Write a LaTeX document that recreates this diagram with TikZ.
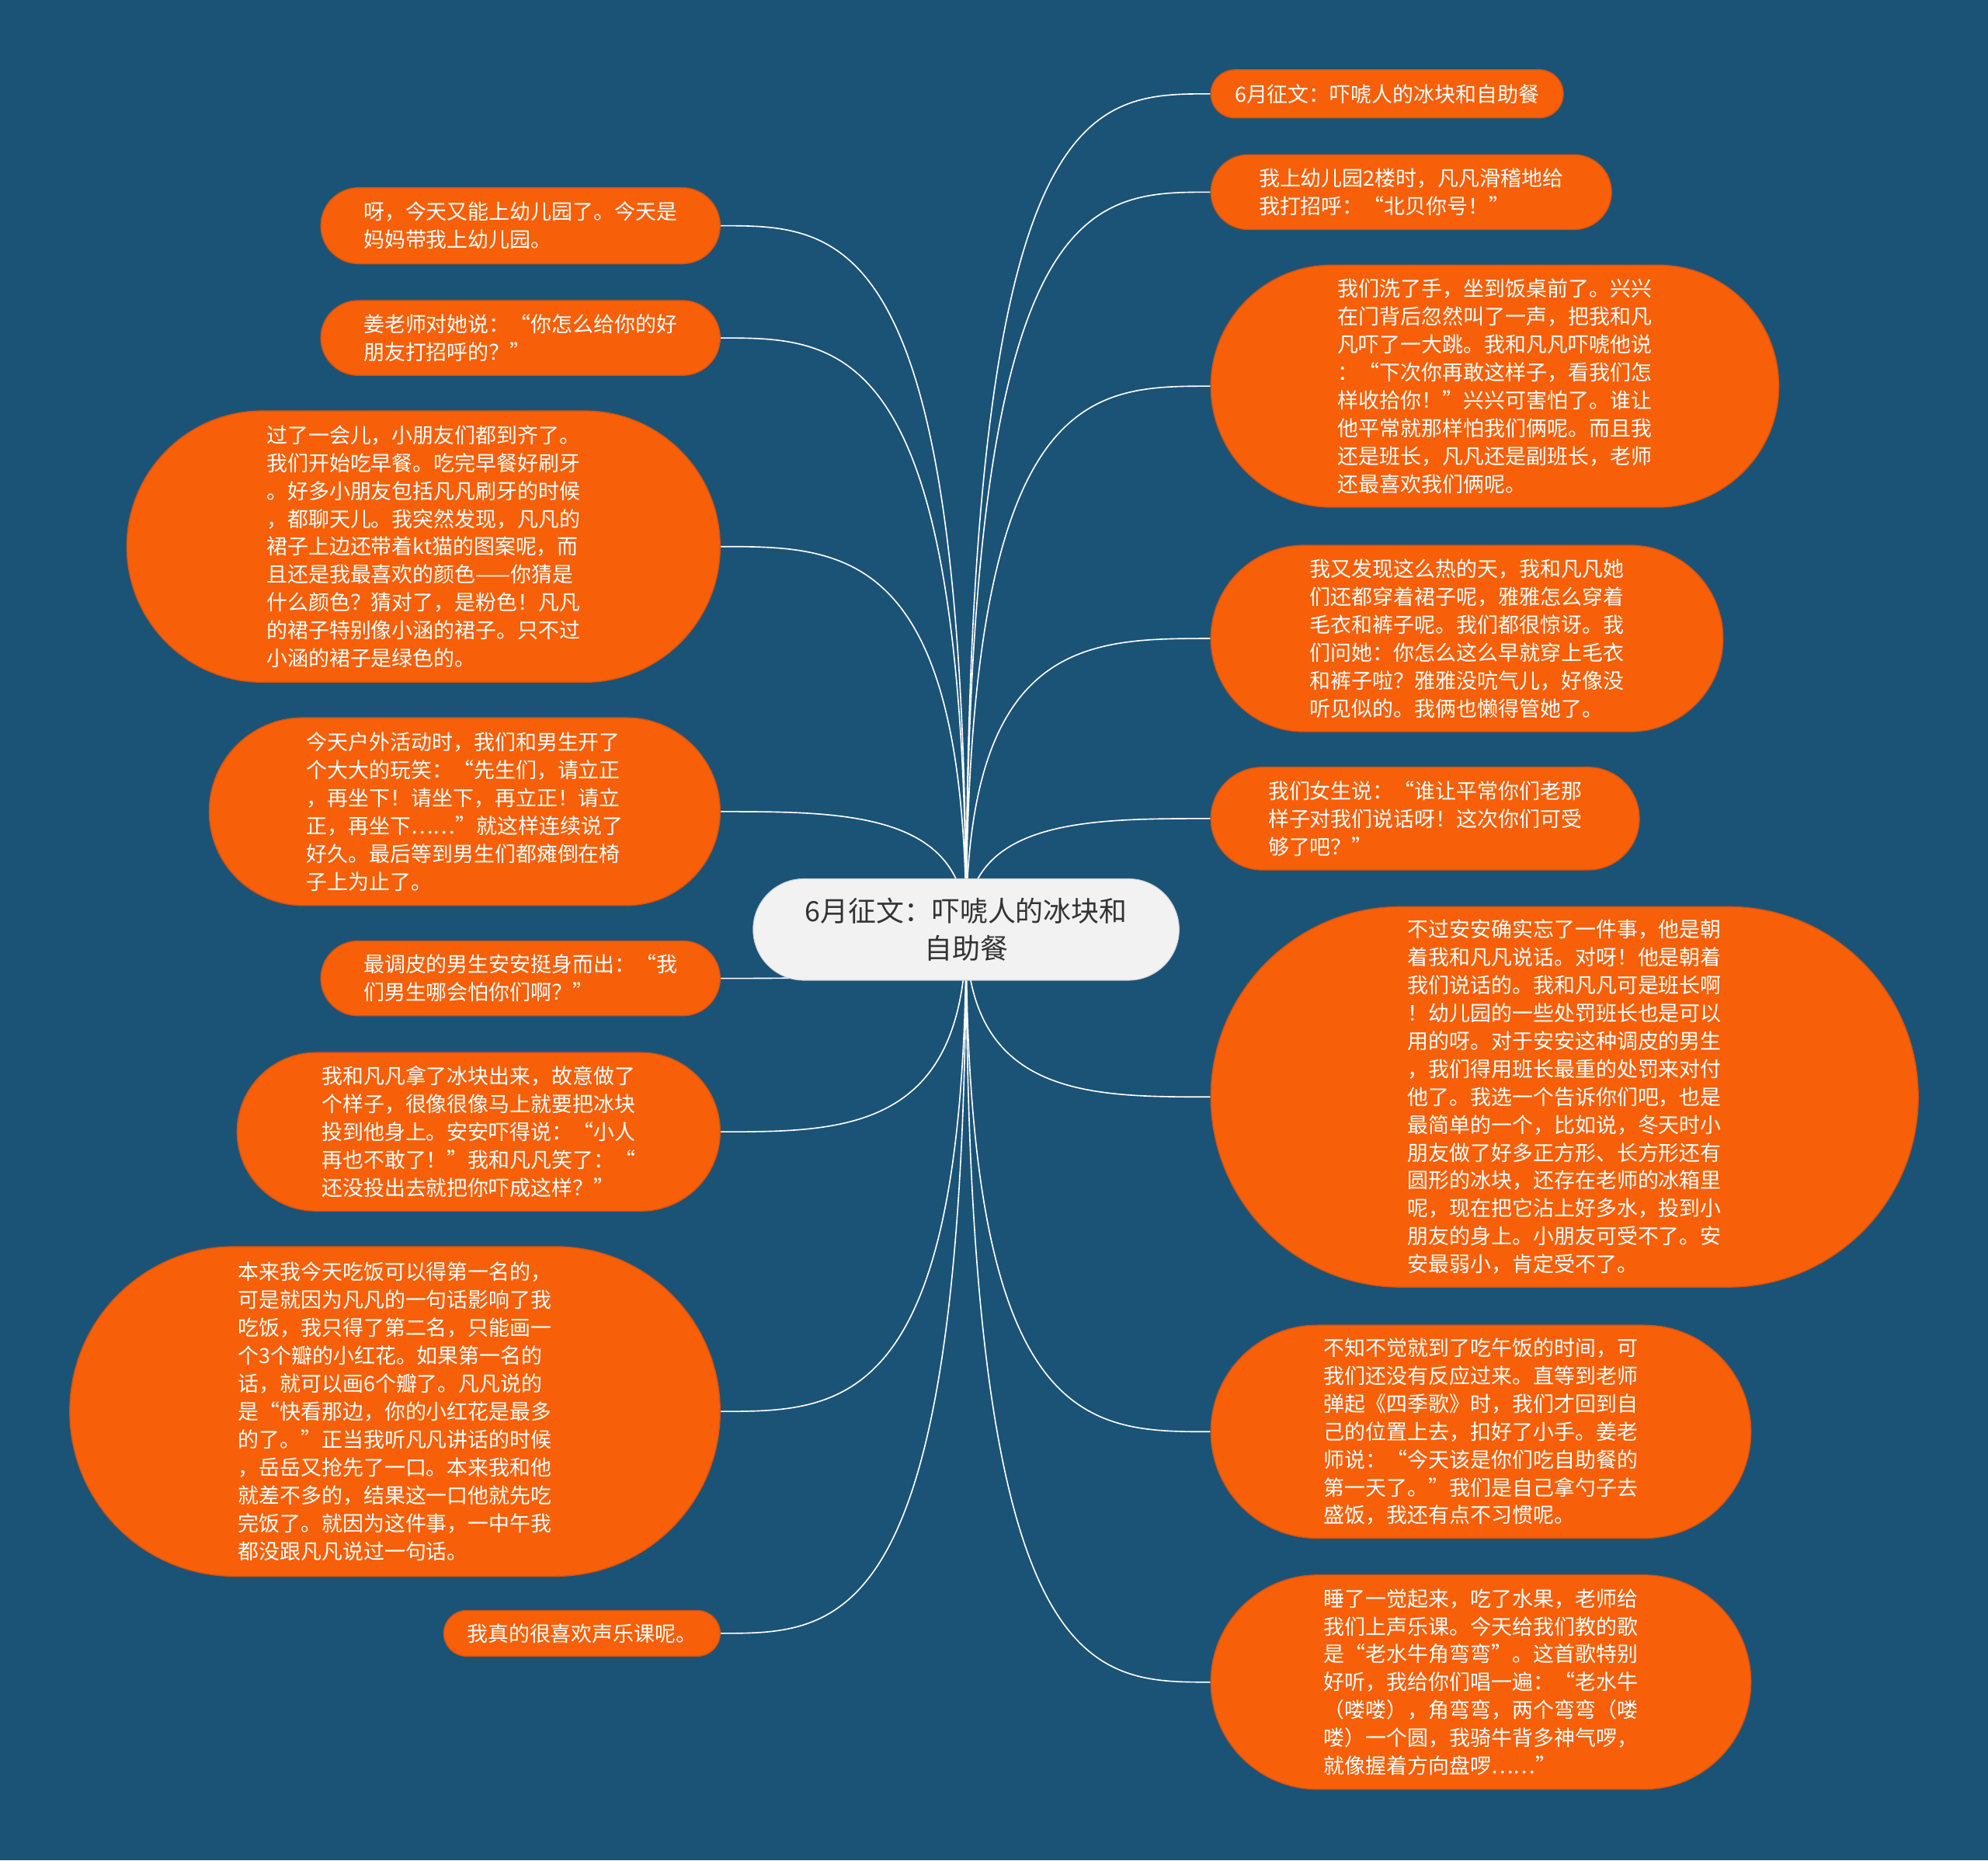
\documentclass[tikz,border=0pt]{standalone}
\usepackage{fontspec}
\newfontfamily\cjk{Noto Sans CJK SC}
\usepackage{tikz}
\usetikzlibrary{calc, backgrounds}
\definecolor{mybg}{RGB}{27,83,119}
\definecolor{myorange}{RGB}{247,95,8}
\definecolor{myedge}{RGB}{212,82,14}
\definecolor{myhub}{RGB}{242,242,242}
\definecolor{mydark}{RGB}{51,51,51}
\tikzset{
  leaf/.style 2 args={rectangle, draw=myedge, fill=myorange, text=white,
    minimum width=#1pt, minimum height=#2pt, rounded corners=#2pt/2,
    align=left, font=\cjk\fontsize{16.5}{22}\selectfont,
    line width=0.8pt, inner sep=0pt},
  hub/.style={rectangle, draw=myhub!85!black, fill=myhub, text=mydark,
    minimum width=336pt, minimum height=80pt, rounded corners=40pt,
    align=center, font=\cjk\fontsize{22}{29}\selectfont,
    line width=0.6pt, inner sep=0pt},
  link/.style={white, line width=1pt}
}

\begin{document}
\begin{tikzpicture}[x=1pt, y=-1pt]
  \node[hub] (hub) at (762,733) {6月征文：吓唬人的冰块和\\自助餐};
  % left side
  \node[leaf={315}{60}] (l1) at (410.5,178) {呀，今天又能上幼儿园了。今天是\\妈妈带我上幼儿园。};
  \node[leaf={315}{59}] (l2) at (410.5,266.5) {姜老师对她说：“你怎么给你的好\\朋友打招呼的？”};
  \node[leaf={468}{214}] (l3) at (334,431) {过了一会儿，小朋友们都到齐了。\\我们开始吃早餐。吃完早餐好刷牙\\。好多小朋友包括凡凡刷牙的时候\\，都聊天儿。我突然发现，凡凡的\\裙子上边还带着kt猫的图案呢，而\\且还是我最喜欢的颜色——你猜是\\什么颜色？猜对了，是粉色！凡凡\\的裙子特别像小涵的裙子。只不过\\小涵的裙子是绿色的。};
  \node[leaf={403}{148}] (l4) at (366.5,640) {今天户外活动时，我们和男生开了\\个大大的玩笑：“先生们，请立正\\，再坐下！请坐下，再立正！请立\\正，再坐下……”就这样连续说了\\好久。最后等到男生们都瘫倒在椅\\子上为止了。};
  \node[leaf={315}{59}] (l5) at (410.5,771.5) {最调皮的男生安安挺身而出：“我\\们男生哪会怕你们啊？”};
  \node[leaf={381}{125}] (l6) at (377.5,892.5) {我和凡凡拿了冰块出来，故意做了\\个样子，很像很像马上就要把冰块\\投到他身上。安安吓得说：“小人\\再也不敢了！”我和凡凡笑了：“\\还没投出去就把你吓成这样？”};
  \node[leaf={513}{260}] (l7) at (311.5,1113) {本来我今天吃饭可以得第一名的，\\可是就因为凡凡的一句话影响了我\\吃饭，我只得了第二名，只能画一\\个3个瓣的小红花。如果第一名的\\话，就可以画6个瓣了。凡凡说的\\是“快看那边，你的小红花是最多\\的了。”正当我听凡凡讲话的时候\\，岳岳又抢先了一口。本来我和他\\就差不多的，结果这一口他就先吃\\完饭了。就因为这件事，一中午我\\都没跟凡凡说过一句话。};
  \node[leaf={218}{36}] (l8) at (459,1288) {我真的很喜欢声乐课呢。};
  % right side
  \node[leaf={278}{38}] (r1) at (1094,74) {6月征文：吓唬人的冰块和自助餐};
  \node[leaf={316}{59}] (r2) at (1113,151.5) {我上幼儿园2楼时，凡凡滑稽地给\\我打招呼：“北贝你号！”};
  \node[leaf={448}{191}] (r3) at (1179,304.5) {我们洗了手，坐到饭桌前了。兴兴\\在门背后忽然叫了一声，把我和凡\\凡吓了一大跳。我和凡凡吓唬他说\\：“下次你再敢这样子，看我们怎\\样收拾你！”兴兴可害怕了。谁让\\他平常就那样怕我们俩呢。而且我\\还是班长，凡凡还是副班长，老师\\还最喜欢我们俩呢。};
  \node[leaf={404}{147}] (r4) at (1157,503.5) {我又发现这么热的天，我和凡凡她\\们还都穿着裙子呢，雅雅怎么穿着\\毛衣和裤子呢。我们都很惊讶。我\\们问她：你怎么这么早就穿上毛衣\\和裤子啦？雅雅没吭气儿，好像没\\听见似的。我俩也懒得管她了。};
  \node[leaf={338}{81}] (r5) at (1124,645.5) {我们女生说：“谁让平常你们老那\\样子对我们说话呀！这次你们可受\\够了吧？”};
  \node[leaf={558}{300}] (r6) at (1234,865) {不过安安确实忘了一件事，他是朝\\着我和凡凡说话。对呀！他是朝着\\我们说话的。我和凡凡可是班长啊\\！幼儿园的一些处罚班长也是可以\\用的呀。对于安安这种调皮的男生\\，我们得用班长最重的处罚来对付\\他了。我选一个告诉你们吧，也是\\最简单的一个，比如说，冬天时小\\朋友做了好多正方形、长方形还有\\圆形的冰块，还存在老师的冰箱里\\呢，现在把它沾上好多水，投到小\\朋友的身上。小朋友可受不了。安\\安最弱小，肯定受不了。};
  \node[leaf={426}{168}] (r7) at (1168,1129) {不知不觉就到了吃午饭的时间，可\\我们还没有反应过来。直等到老师\\弹起《四季歌》时，我们才回到自\\己的位置上去，扣好了小手。姜老\\师说：“今天该是你们吃自助餐的\\第一天了。”我们是自己拿勺子去\\盛饭，我还有点不习惯呢。};
  \node[leaf={426}{169}] (r8) at (1168,1326.5) {睡了一觉起来，吃了水果，老师给\\我们上声乐课。今天给我们教的歌\\是“老水牛角弯弯”。这首歌特别\\好听，我给你们唱一遍：“老水牛\\（喽喽），角弯弯，两个弯弯（喽\\喽）一个圆，我骑牛背多神气啰，\\就像握着方向盘啰……”};
  \begin{pgfonlayer}{background}
    \fill[mybg] (0,0) rectangle (1568,1467);
    \foreach \n in {l1,l2,l3,l4,l5,l6,l7,l8}
      \draw[link] (hub.center) .. controls (hub.center |- \n.east)
        and ($(hub.center |- \n.east)!0.5!(\n.east)$) .. (\n.east);
    \foreach \n in {r1,r2,r3,r4,r5,r6,r7,r8}
      \draw[link] (hub.center) .. controls (hub.center |- \n.west)
        and ($(hub.center |- \n.west)!0.5!(\n.west)$) .. (\n.west);
  \end{pgfonlayer}
\end{tikzpicture}
\end{document}
